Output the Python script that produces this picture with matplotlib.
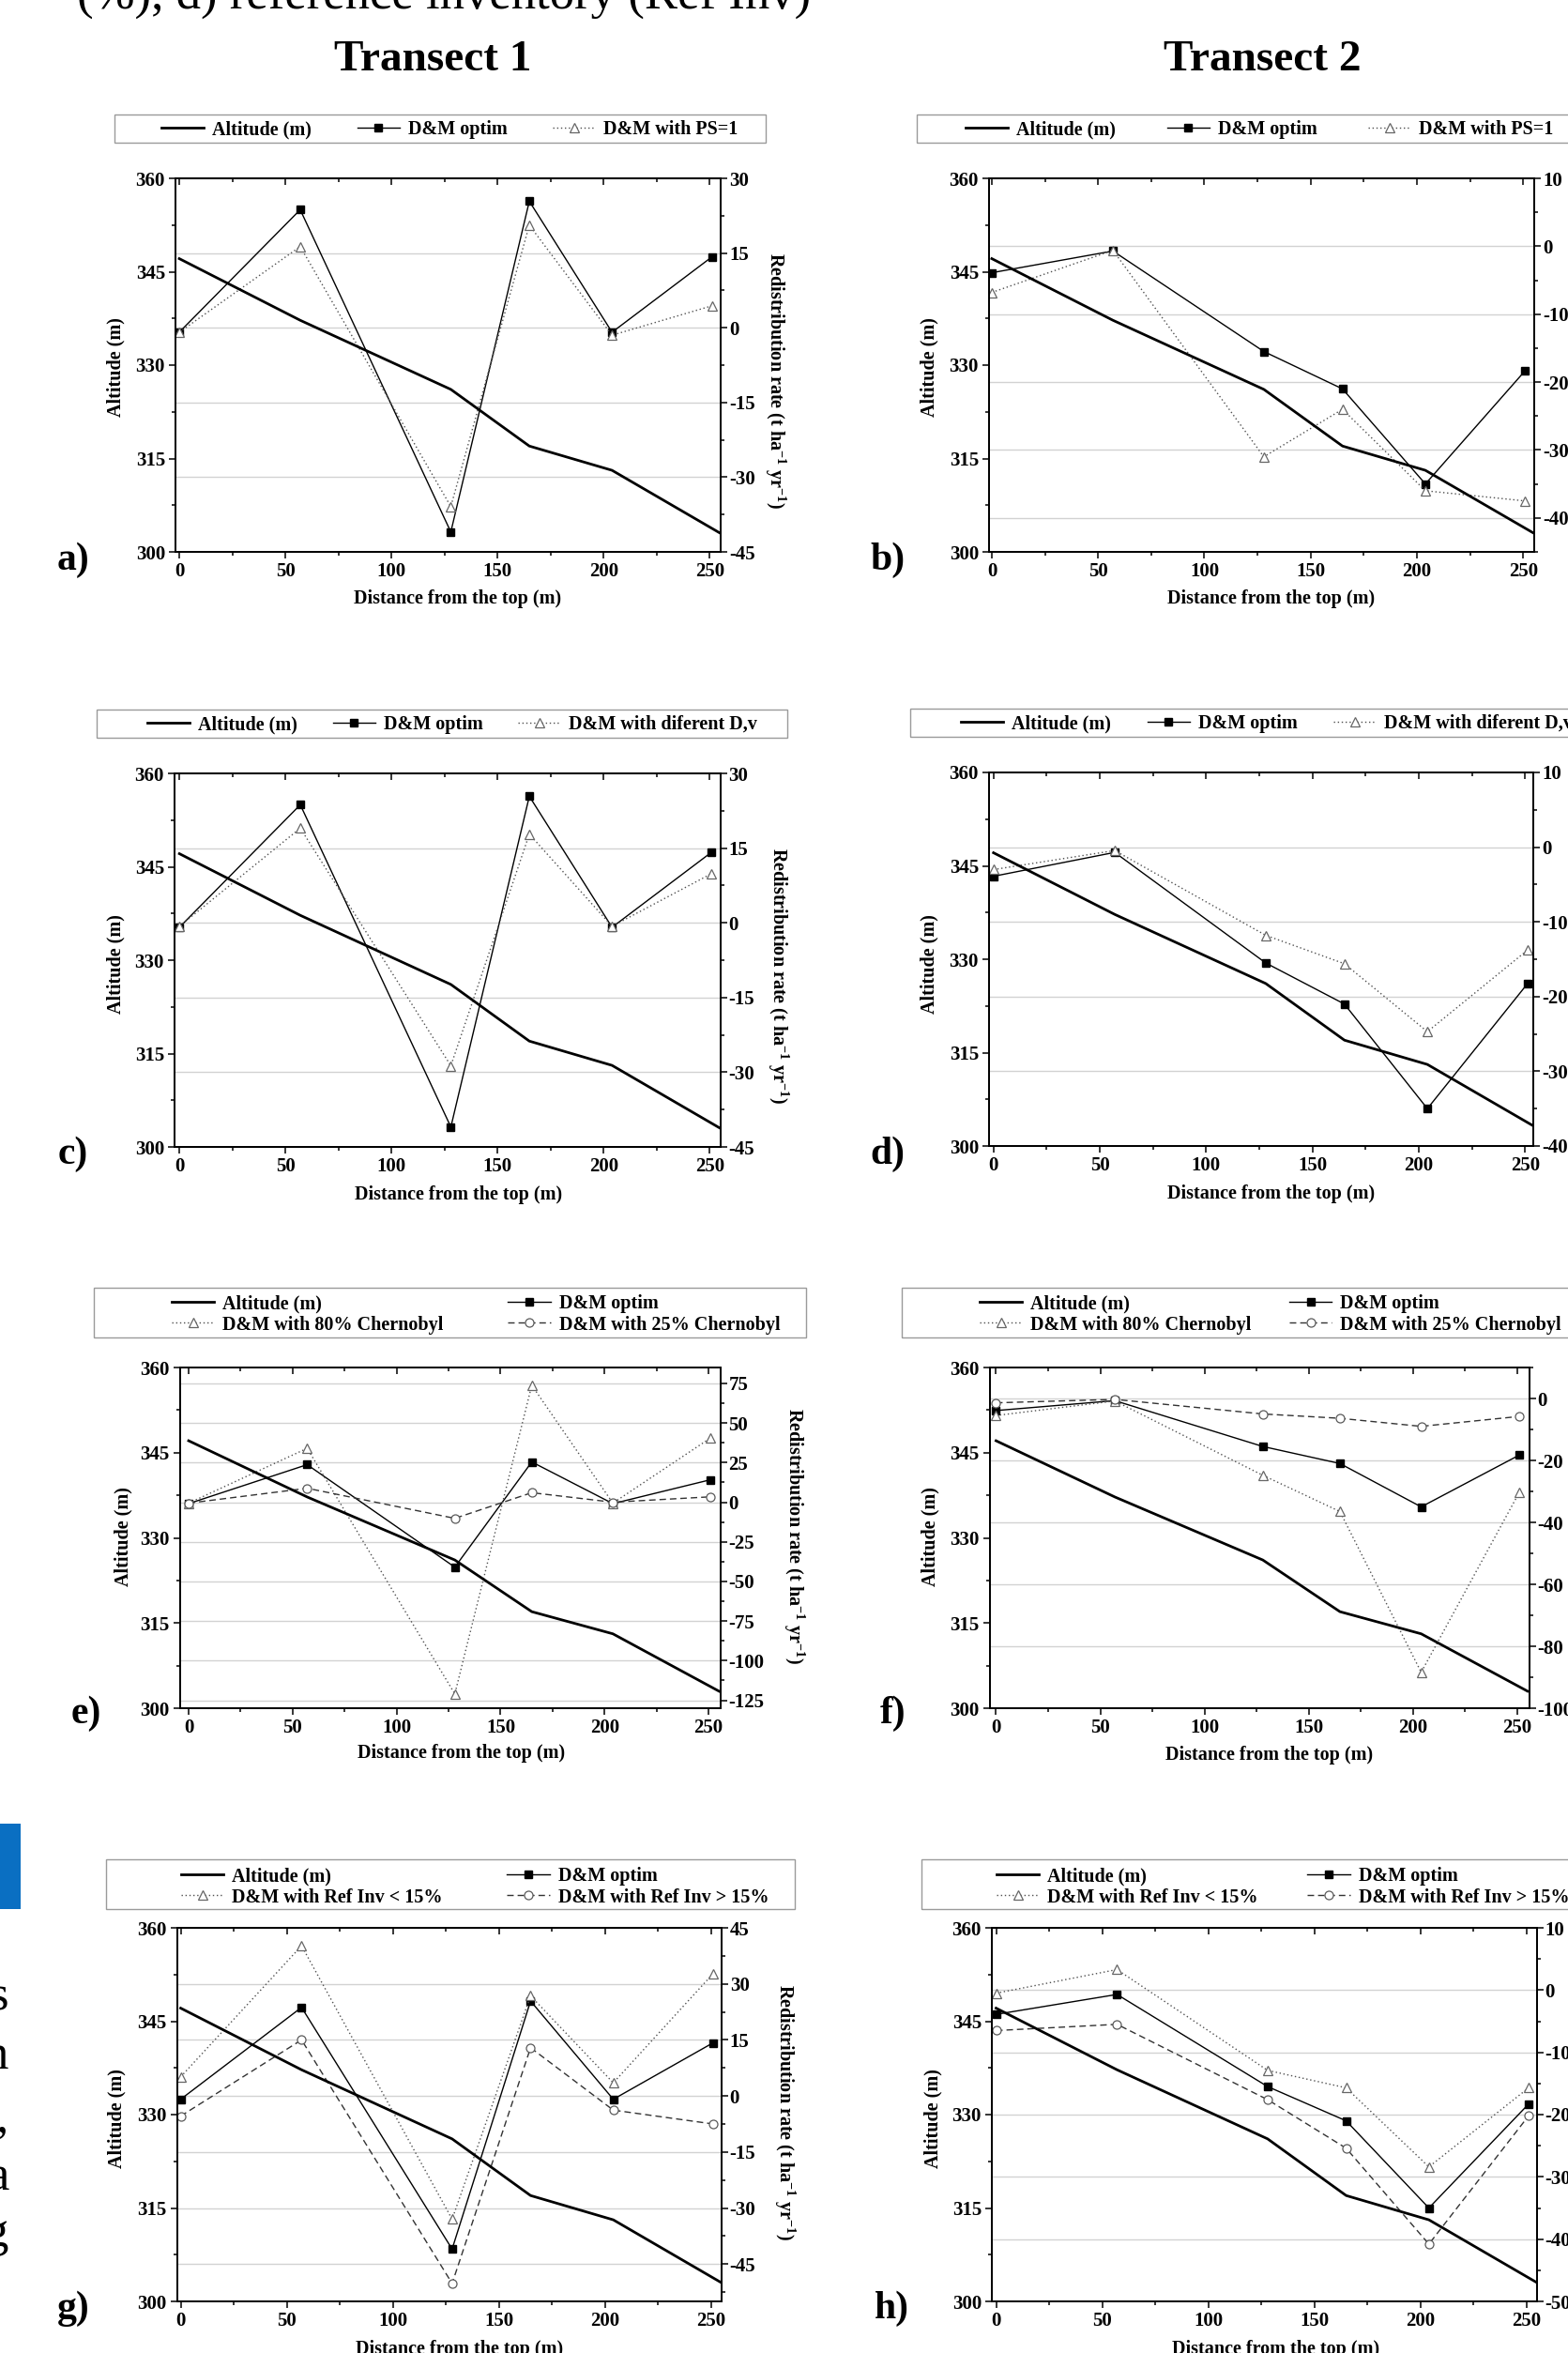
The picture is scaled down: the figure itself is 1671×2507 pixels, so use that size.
import matplotlib
matplotlib.use('Agg')
import matplotlib.pyplot as plt
from matplotlib.patches import Rectangle
from matplotlib.ticker import MultipleLocator

plt.rcParams['font.family'] = ['Liberation Serif', 'DejaVu Serif']
plt.rcParams['font.weight'] = 'bold'
plt.rcParams['axes.labelweight'] = 'bold'
plt.rcParams['axes.unicode_minus'] = False
plt.rcParams['mathtext.fontset'] = 'custom'
plt.rcParams['mathtext.rm'] = 'Liberation Serif:bold'
plt.rcParams['mathtext.it'] = 'Liberation Serif:bold'
plt.rcParams['mathtext.bf'] = 'Liberation Serif:bold'

# ---- data ----
dist = [0, 57, 128, 165, 204, 251]
dist_alt = [0, 57, 128, 165, 204, 255]
altitude = [347.1, 337.2, 326.1, 317.0, 313.1, 303.0]

t1_optim = [-0.9, 23.7, -41.0, 25.4, -0.9, 14.2]
t2_optim = [-3.9, -0.7, -15.5, -21.0, -35.0, -18.3]

t1_ps1 = [-0.9, 16.3, -35.9, 20.6, -1.5, 4.4]
t2_ps1 = [-6.8, -0.6, -31.0, -24.0, -36.0, -37.5]

t1_dv = [-0.7, 19.0, -28.7, 17.8, -0.7, 9.9]
t2_dv = [-3.0, -0.45, -11.8, -15.6, -24.7, -13.8]

t1_ch80 = [-0.6, 34.0, -121.0, 73.8, -0.6, 40.6]
t1_ch25 = [-0.6, 8.8, -10.2, 6.0, 0.0, 3.4]
t2_ch80 = [-5.5, -0.8, -24.8, -36.5, -88.4, -30.4]
t2_ch25 = [-1.4, -0.3, -5.0, -6.4, -9.0, -5.8]

t1_ref_lo = [5.1, 40.2, -33.0, 26.8, 3.5, 32.7]
t1_ref_hi = [-5.4, 15.0, -50.2, 12.9, -3.8, -7.5]
t2_ref_lo = [-0.5, 3.3, -12.9, -15.7, -28.4, -15.7]
t2_ref_hi = [-6.5, -5.5, -17.6, -25.4, -40.8, -20.2]

labels_ps = ['Altitude (m)', 'D&M optim', 'D&M with PS=1']
labels_dv = ['Altitude (m)', 'D&M optim', 'D&M with diferent D,v']
labels_ch = ['Altitude (m)', 'D&M optim', 'D&M with 80% Chernobyl', 'D&M with 25% Chernobyl']
labels_ref = ['Altitude (m)', 'D&M optim', 'D&M with Ref Inv < 15%', 'D&M with Ref Inv > 15%']

alt_label = 'Altitude (m)'
x_label = 'Distance from the top (m)'
rate_label = r'Redistribution rate (t ha$^{-1}$ yr$^{-1}$)'

W, H = 1671, 2507
FS = 14.5
TS = 15


def fx(px):
    return px / W


def fy(py):
    return 1 - py / H


STYLE = {
    'optim': dict(color='black', lw=1.0, ls='-', marker='s', ms=6,
                  mfc='black', mec='black'),
    'tri': dict(color='#505050', lw=1.0, ls=(0, (1, 2.0)), marker='^', ms=7.5,
                mfc='white', mec='#666666', mew=0.9),
    'circ': dict(color='#333333', lw=1.0, ls=(0, (5, 3)), marker='o', ms=6.5,
                 mfc='white', mec='#5a5a5a', mew=0.9),
}

# layout in pixels of the original page
panels = [
    dict(tag='a)', box=(187, 190, 768, 588), xlim=(-1.8, 255.2), rlim=(-45, 30), rstep=15,
         series=[(t1_optim, 'optim'), (t1_ps1, 'tri')], labels=labels_ps,
         leg_box=(122.5, 122.5, 816, 152), leg_at=(172, 138), ncol=3, cs=2.4,
         tag_at=(78, 597), xl_at=(488, 638), yl_at=(123, 391), rl_at=(826, 405)),
    dict(tag='b)', box=(1054, 190, 1635, 588), xlim=(-1.3, 255.2), rlim=(-45, 10), rstep=10,
         series=[(t2_optim, 'optim'), (t2_ps1, 'tri')], labels=labels_ps,
         leg_box=(977, 122.5, 1700, 152), leg_at=(1029, 138), ncol=3, cs=2.7,
         tag_at=(946, 597), xl_at=(1355, 638), yl_at=(990, 391), rl_at=None),
    dict(tag='c)', box=(186, 824, 767.5, 1222), xlim=(-2.3, 255.0), rlim=(-45, 30), rstep=15,
         series=[(t1_optim, 'optim'), (t1_dv, 'tri')], labels=labels_dv,
         leg_box=(103, 756, 839, 786), leg_at=(157, 772), ncol=3, cs=1.85,
         tag_at=(78, 1230), xl_at=(489, 1273), yl_at=(123, 1027), rl_at=(829, 1039)),
    dict(tag='d)', box=(1054, 823, 1634, 1221), xlim=(-2.1, 253.8), rlim=(-40, 10), rstep=10,
         series=[(t2_optim, 'optim'), (t2_dv, 'tri')], labels=labels_dv,
         leg_box=(970, 755, 1700, 785), leg_at=(1024, 771), ncol=3, cs=1.9,
         tag_at=(946, 1230), xl_at=(1355, 1272), yl_at=(990, 1027), rl_at=None),
    dict(tag='e)', box=(191.5, 1457, 767.5, 1820), xlim=(-4.3, 255.6), rlim=(-130, 85), rstep=25,
         series=[(t1_optim, 'optim'), (t1_ch80, 'tri'), (t1_ch25, 'circ')], labels=labels_ch,
         leg_box=(100, 1372, 859, 1425), leg_at=(183, 1400.5), ncol=2, cs=3.4,
         tag_at=(92, 1826), xl_at=(492, 1868), yl_at=(131, 1637), rl_at=(846, 1636)),
    dict(tag='f)', box=(1054.6, 1457, 1629.6, 1820), xlim=(-3.1, 255.8), rlim=(-100, 10), rstep=20,
         series=[(t2_optim, 'optim'), (t2_ch80, 'tri'), (t2_ch25, 'circ')], labels=labels_ch,
         leg_box=(961, 1372, 1700, 1425), leg_at=(1044, 1400.5), ncol=2, cs=2.0,
         tag_at=(952, 1826), xl_at=(1353, 1870), yl_at=(991, 1637), rl_at=None),
    dict(tag='g)', box=(188.7, 2054, 768.6, 2452), xlim=(-1.7, 254.9), rlim=(-55, 45), rstep=15,
         series=[(t1_optim, 'optim'), (t1_ref_lo, 'tri'), (t1_ref_hi, 'circ')], labels=labels_ref,
         leg_box=(112.6, 1981, 847.4, 2034), leg_at=(193, 2010.5), ncol=2, cs=3.4,
         tag_at=(78, 2460), xl_at=(490, 2503), yl_at=(124, 2257), rl_at=(836, 2250)),
    dict(tag='h)', box=(1057, 2054, 1637.6, 2452), xlim=(-2.0, 254.8), rlim=(-50, 10), rstep=10,
         series=[(t2_optim, 'optim'), (t2_ref_lo, 'tri'), (t2_ref_hi, 'circ')], labels=labels_ref,
         leg_box=(982, 1981, 1700, 2034), leg_at=(1062, 2010.5), ncol=2, cs=2.6,
         tag_at=(950, 2460), xl_at=(1360, 2503), yl_at=(994, 2257), rl_at=None),
]

fig = plt.figure(figsize=(W / 100, H / 100), dpi=100)

for p in panels:
    l, t, r, b = p['box']
    ax = fig.add_axes([fx(l), fy(b), (r - l) / W, (b - t) / H])
    ax2 = ax.twinx()
    ax.set_zorder(ax2.get_zorder() + 1)
    ax.patch.set_visible(False)

    # altitude on the left axis
    h_alt, = ax.plot(dist_alt, altitude, color='black', lw=2.0)
    ax.set_xlim(p['xlim'])
    ax.set_ylim(300, 360)
    ax.yaxis.set_major_locator(MultipleLocator(15))
    ax.yaxis.set_minor_locator(MultipleLocator(7.5))
    ax.xaxis.set_major_locator(MultipleLocator(50))
    ax.xaxis.set_minor_locator(MultipleLocator(25))
    ax.tick_params(axis='both', which='both', direction='out', labelsize=TS, width=1.1)
    ax.tick_params(axis='both', which='major', length=5, pad=3)
    ax.tick_params(axis='both', which='minor', length=3)
    ax.tick_params(axis='x', top=False)

    top = ax.secondary_xaxis('top')
    top.xaxis.set_major_locator(MultipleLocator(50))
    top.xaxis.set_minor_locator(MultipleLocator(25))
    top.tick_params(axis='x', which='both', direction='in', labeltop=False, width=1.1)
    top.tick_params(axis='x', which='major', length=5)
    top.tick_params(axis='x', which='minor', length=3)

    # redistribution rates on the right axis
    handles = [h_alt]
    for vals, kind in p['series']:
        h, = ax2.plot(dist, vals, **STYLE[kind])
        handles.append(h)
    ax2.set_ylim(p['rlim'])
    ax2.yaxis.set_major_locator(MultipleLocator(p['rstep']))
    ax2.yaxis.set_minor_locator(MultipleLocator(p['rstep'] / 2))
    ax2.tick_params(axis='y', which='both', direction='out', labelsize=TS, width=1.1)
    ax2.tick_params(axis='y', which='major', length=5, pad=1.5)
    ax2.tick_params(axis='y', which='minor', length=3)
    ax2.set_axisbelow(True)
    ax2.yaxis.grid(True, which='major', color='#d2d2d2', lw=1.0)

    for a in (ax, ax2, top):
        for s in a.spines.values():
            s.set_linewidth(1.3)

    # axis labels
    ax.set_xlabel(x_label, fontsize=FS)
    ax.xaxis.label.set_verticalalignment('center')
    ax.xaxis.set_label_coords((p['xl_at'][0] - l) / (r - l), (b - p['xl_at'][1]) / (b - t))
    ax.set_ylabel(alt_label, fontsize=FS)
    ax.yaxis.label.set_verticalalignment('center')
    ax.yaxis.set_label_coords((p['yl_at'][0] - l) / (r - l), (b - p['yl_at'][1]) / (b - t))
    if p['rl_at'] is not None:
        ax2.set_ylabel(rate_label, fontsize=FS, rotation=-90)
        ax2.yaxis.label.set_verticalalignment('center')
        ax2.yaxis.set_label_coords((p['rl_at'][0] - l) / (r - l), (b - p['rl_at'][1]) / (b - t))

    # legend box and entries
    bl, bt, br, bb = p['leg_box']
    fig.patches.append(Rectangle((fx(bl), fy(bb)), (br - bl) / W, (bb - bt) / H,
                                 transform=fig.transFigure, fill=False,
                                 edgecolor='#9a9a9a', lw=1.0))
    if p['ncol'] == 2:
        order = [0, 2, 1, 3]
        hs = [handles[i] for i in order]
        ls = [p['labels'][i] for i in order]
    else:
        hs, ls = handles, p['labels']
    fig.legend(hs, ls, loc='center left', bbox_to_anchor=(fx(p['leg_at'][0]), fy(p['leg_at'][1])),
               ncol=p['ncol'], frameon=False, borderpad=0, borderaxespad=0,
               handlelength=2.25, handletextpad=0.45, columnspacing=p['cs'],
               labelspacing=0.1, fontsize=FS, numpoints=1)

    fig.text(fx(p['tag_at'][0]), fy(p['tag_at'][1]), p['tag'], ha='center', va='center',
             fontsize=30, fontweight='bold')

# column titles
fig.text(fx(461), fy(75), 'Transect 1', ha='center', va='baseline', fontsize=34, fontweight='bold')
fig.text(fx(1345), fy(75), 'Transect 2', ha='center', va='baseline', fontsize=34, fontweight='bold')

# fragments of the surrounding page
fig.text(fx(82), fy(9), '(%), d) reference inventory (Ref Inv)', ha='left', va='baseline',
         fontsize=38, fontweight='normal')
for ch, yb in zip(['s', 'n', ',', 'a', 'g'], [2141, 2204, 2270, 2333, 2393]):
    fig.text(fx(9), fy(yb), ch, ha='right', va='baseline', fontsize=38, fontweight='normal')
fig.patches.append(Rectangle((0, fy(2034)), 22 / W, (2034 - 1943) / H,
                             transform=fig.transFigure, color='#0a6fc2', lw=0))

fig.savefig('out.png', dpi=100)
